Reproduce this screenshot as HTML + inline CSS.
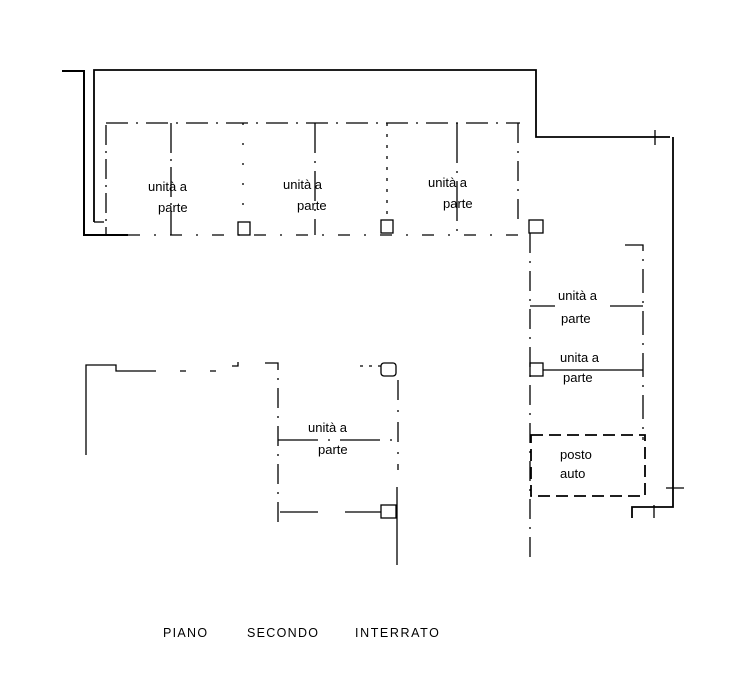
<!DOCTYPE html>
<html><head><meta charset="utf-8"><style>
html,body{margin:0;padding:0;background:#fff;}
svg{display:block;}
text{font-family:"Liberation Sans",sans-serif;fill:#000;}
</style></head><body>
<svg width="734" height="694" viewBox="0 0 734 694" xmlns="http://www.w3.org/2000/svg">
<g stroke="#000" fill="none" stroke-width="1.3">
<path d="M62 71 H84 V235 H128" stroke-width="2"/>
<path d="M94 222 V70 H536 V137 H670" stroke-width="1.8"/>
<path d="M94 222 H104" />
<path d="M673 137 V507 H632 V518" stroke-width="1.8"/>
<path d="M655 130 V145 M654 505 V518 M666 488 H684"/>
<path d="M106 123 H520" stroke-dasharray="22,8,2,8"/>
<path d="M106 125 V235" stroke-dasharray="20,6,2,6"/>
<path d="M171 123 V235" stroke-dasharray="30,6,2,6"/>
<path d="M243 123 V220" stroke-dasharray="2,18"/>
<path d="M315 123 V235" stroke-dasharray="30,8,2,8"/>
<path d="M387 123 V220" stroke-dasharray="3,8"/>
<path d="M457 123 V235" stroke-dasharray="40,8,2,8"/>
<path d="M518 123 V222" stroke-dasharray="20,8,2,8"/>
<path d="M128 235 H528" stroke-dasharray="12,14,2,14"/>
<rect x="238" y="222" width="12" height="13"/>
<rect x="381" y="220" width="12" height="13"/>
<rect x="529" y="220" width="14" height="13"/>
<path d="M530 233 V565" stroke-dasharray="20,8,2,8"/>
<path d="M625 245 H643 V440" stroke-dasharray="24,8,2,8"/>
<path d="M530 306 H555 M610 306 H643"/>
<path d="M543 370 H643"/>
<rect x="530" y="363" width="13" height="13"/>
<rect x="531" y="435" width="114" height="61" stroke-dasharray="12,6" stroke-width="1.8"/>
<path d="M86 455 V365 H116 V371 H150"/>
<path d="M150 371 H240" stroke-dasharray="6,24"/>
<path d="M232 366 H238 V362 M265 363 H278 V530" stroke-dasharray="20,8,2,8"/>
<path d="M278 440 H395"  stroke-dasharray="40,10,2,10"/>
<path d="M398 380 V470" stroke-dasharray="20,10,2,10"/>
<path d="M360 366 H381"  stroke-dasharray="3,6"/>
<rect x="381" y="363" width="15" height="13" rx="3"/>
<path d="M280 512 H318 M345 512 H381" />
<rect x="381" y="505" width="15" height="13"/>
<path d="M397 487 V565"/>
</g>
<g font-size="13">
<text x="148" y="191">unità a</text>
<text x="158" y="212">parte</text>
<text x="283" y="189">unità a</text>
<text x="297" y="210">parte</text>
<text x="428" y="187">unità a</text>
<text x="443" y="208">parte</text>
<text x="558" y="300">unità a</text>
<text x="561" y="323">parte</text>
<text x="560" y="362">unita a</text>
<text x="563" y="382">parte</text>
<text x="560" y="459">posto</text>
<text x="560" y="478">auto</text>
<text x="308" y="432">unità a</text>
<text x="318" y="454">parte</text>
</g>
<g font-size="12.5">
<text x="163" y="637" letter-spacing="1.3">PIANO</text>
<text x="247" y="637" letter-spacing="1.3">SECONDO</text>
<text x="355" y="637" letter-spacing="1.6">INTERRATO</text>
</g>
</svg>
</body></html>
